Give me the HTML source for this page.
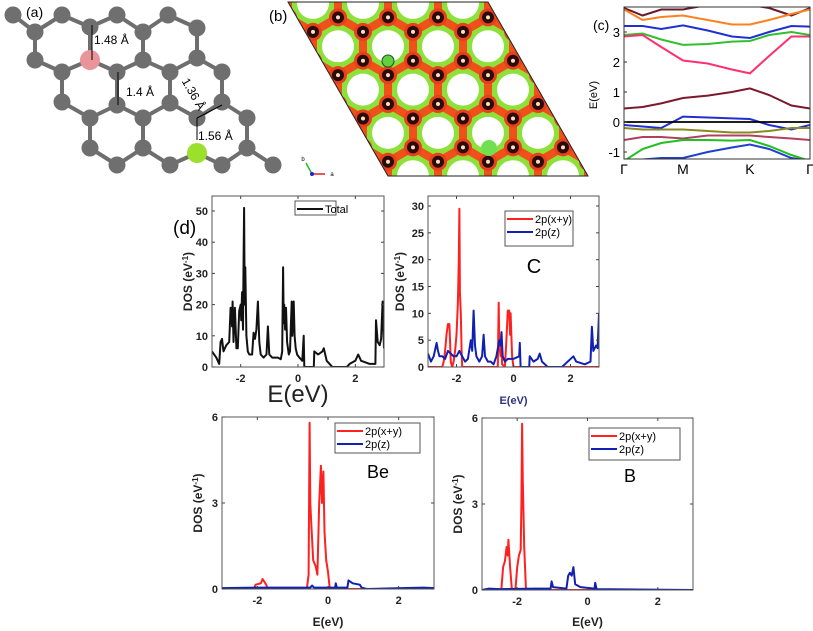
<!DOCTYPE html>
<html><head><meta charset="utf-8"><style>
html,body{margin:0;padding:0;background:#fff;}
svg{display:block;font-family:"Liberation Sans",sans-serif;}
</style></head><body>
<svg id="fig" width="813" height="631" viewBox="0 0 813 631" xmlns="http://www.w3.org/2000/svg">
<g id="pa"></g>
<g id="pb"></g>
<g id="pc"></g>
<g id="pd"></g>
</svg>
<script>
// ---------- Band structure data ----------
const bandK = [0, 0.1, 0.2, 0.317, 0.45, 0.58, 0.677, 0.78, 0.9, 1];
const bandMaroon = [0.45,0.5,0.62,0.8,0.88,1.0,1.12,0.9,0.55,0.45];
const bandPink = [2.85,2.9,2.5,2.05,1.95,1.75,1.62,2.2,2.85,2.85];
const bandGreenUp = [2.9,2.95,2.75,2.57,2.6,2.68,2.7,2.9,3.0,2.9];
const bandBlueUp = [3.2,3.2,3.1,3.22,3.05,2.85,2.8,3.0,3.2,3.18];
const bandOrange = [3.75,3.4,3.5,3.55,3.4,3.25,3.25,3.4,3.6,3.75];
const bandDarkTop = [3.8,3.55,3.75,3.75,3.9,3.9,3.9,3.8,3.55,3.8];
const bandBlueVal = [-0.1,-0.15,-0.2,0.18,0.15,0.12,0.1,-0.1,-0.25,-0.1];
const bandOlive = [-0.2,-0.25,-0.25,-0.25,-0.3,-0.35,-0.35,-0.3,-0.2,-0.2];
const bandRose = [-0.6,-0.5,-0.5,-0.55,-0.45,-0.45,-0.45,-0.5,-0.55,-0.6];
const bandGreenLow = [-1.3,-0.9,-0.7,-0.6,-0.6,-0.62,-0.6,-0.8,-1.1,-1.3];
const bandBlueLow = [-1.3,-1.25,-1.2,-1.2,-1.0,-0.85,-0.75,-0.9,-1.2,-1.3];
const bandTicks = [-1,0,1,2,3];
const bandKLabels = ["Γ","M","K","Γ"];
const bandKPos = [0,0.317,0.677,1];

// ---------- DOS data ----------
const totE = [-3,-2.85,-2.75,-2.7,-2.65,-2.6,-2.5,-2.4,-2.35,-2.3,-2.28,-2.25,-2.2,-2.15,-2.1,-2.05,-2.0,-1.98,-1.95,-1.92,-1.9,-1.88,-1.86,-1.84,-1.8,-1.75,-1.7,-1.6,-1.55,-1.5,-1.45,-1.4,-1.35,-1.3,-1.2,-1.1,-1.05,-1.0,-0.9,-0.8,-0.7,-0.6,-0.55,-0.52,-0.5,-0.48,-0.45,-0.42,-0.38,-0.32,-0.28,-0.22,-0.2,-0.15,-0.12,-0.08,-0.03,0.05,0.15,0.2,0.22,0.55,0.57,0.7,0.85,0.9,1.0,1.2,1.7,1.8,2.0,2.1,2.2,2.5,2.7,2.72,2.78,2.85,2.9,2.95,3.0];
const totV = [5,3,1,8,9,5,7,8,19,13,21,8,19,6,6,18,20,15,24,12,32,51,20,32,10,5,4,4,11,9,12,21,8,4,3,4,13,4,3,3,3,2.5,5,32,14,20,12,19,8,4,5,21,10,21,10,6,4,3,2,10,0,0,5,4,5,6,2,0,0,1,2,4,2,1,1,15,8,7,9,21,6];
const cRedE = [-3,-2.5,-2.45,-2.4,-2.35,-2.3,-2.25,-2.2,-2.15,-2.1,-2.05,-2.0,-1.95,-1.92,-1.9,-1.88,-1.85,-1.82,-1.8,-0.55,-0.52,-0.5,-0.45,-0.42,-0.4,-0.3,-0.25,-0.2,-0.15,-0.12,-0.1,-0.05,0,3];
const cRedV = [0,0,1,3,6,8,8,1,0,1,3,6,12,20,29.5,14,10,3,0,0,12,4,2,5,0.5,0,5,10.5,10.5,6,10,2,0,0];
const cBlueE = [-3,-2.9,-2.8,-2.7,-2.65,-2.6,-2.5,-2.4,-2.3,-2.2,-2.1,-2.0,-1.9,-1.8,-1.7,-1.6,-1.5,-1.45,-1.4,-1.35,-1.3,-1.2,-1.1,-1.05,-1.0,-0.9,-0.8,-0.7,-0.6,-0.5,-0.45,-0.42,-0.38,-0.3,-0.2,-0.1,0,0.2,0.22,0.25,0.55,0.57,0.7,0.85,0.92,1.0,1.2,1.7,1.8,2.1,2.2,2.5,2.7,2.75,2.8,2.9,2.95,3.0];
const cBlueV = [2.5,1,2,4.5,3,2,2,1.5,3,2.5,2,2,3,2,1,1.5,5,3,10.5,4,2,1,2,6,2,1,1,0.5,2,5,4,6.5,2,1,1.5,1.5,1.5,2,4.5,0,0,2,1,1.5,2.5,1,0,0,0.5,2,1,0.5,1,7.5,3,4,3.5,10];
const beRedE = [-3,-2.1,-2.05,-1.9,-1.85,-1.75,-1.7,-0.6,-0.55,-0.52,-0.5,-0.47,-0.42,-0.35,-0.3,-0.25,-0.2,-0.17,-0.13,-0.1,-0.05,0,0.05,3];
const beRedV = [0,0,0.15,0.2,0.35,0.15,0,0,0.5,5.8,3,2.2,1,0.8,0.5,3,4.3,3,4.1,2,1,0.6,0,0];
const beBlueE = [-3,-2,-1.5,-0.5,-0.45,-0.4,0.2,0.22,0.25,0.55,0.58,0.7,0.9,0.95,1.1,2.7,3];
const beBlueV = [0.03,0.05,0.05,0.05,0.12,0.05,0.05,0.2,0.05,0.05,0.3,0.2,0.15,0.05,0,0.05,0.03];
const bRedE = [-3,-2.45,-2.4,-2.35,-2.3,-2.27,-2.25,-2.2,-2.15,-2.05,-2.0,-1.95,-1.9,-1.88,-1.86,-1.84,-1.8,-1.75,3];
const bRedV = [0,0,0.8,1,1.5,1.2,1.75,0.8,0,0,0.8,1.2,1.4,3,5.8,3.8,1.5,0,0];
const bBlueE = [-3,-2.8,-2.5,-1.5,-1.05,-1.02,-0.98,-0.6,-0.55,-0.5,-0.45,-0.4,-0.35,-0.2,0.2,0.22,0.26,3];
const bBlueV = [0,0.05,0.03,0.05,0.05,0.3,0.1,0.05,0.5,0.6,0.5,0.8,0.2,0.1,0.05,0.25,0.03,0];
const xTicks = [-2,0,2];
const totTicks = [0,10,20,30,40,50];
const cTicks = [0,5,10,15,20,25,30];
const sTicks = [0,3,6];

const NS="http://www.w3.org/2000/svg";
function mk(tag, parent, attrs){const e=document.createElementNS(NS,tag);for(const k in attrs)e.setAttribute(k,attrs[k]);parent.appendChild(e);return e;}
function txt(parent, x, y, s, size, anchor, extra){const t=mk('text',parent,Object.assign({x:x,y:y,'font-size':size,'text-anchor':anchor||'middle'},extra||{}));t.textContent=s;return t;}

// ---------- Panel a ----------
(function(){
 const g=document.getElementById('pa');
 const atoms=[[13,15],[62,15],[117,15],[168,15],[35,32],[90,27],[143,32],[197,28],[35,60],[90,60],[143,60],[197,58],[62,72],[117,72],[170,72],[222,72],[62,102],[117,105],[170,103],[222,102],[90,118],[143,118],[197,118],[247,118],[90,148],[143,148],[197,153],[247,148],[117,165],[170,165],[222,165],[273,165]];
 for(let i=0;i<atoms.length;i++)for(let j=i+1;j<atoms.length;j++){
  const dx=atoms[i][0]-atoms[j][0],dy=atoms[i][1]-atoms[j][1],d=Math.hypot(dx,dy);
  if(d<34&&!(Math.abs(dy)<3)){
   const l=mk('line',g,{x1:atoms[i][0],y1:atoms[i][1],x2:atoms[j][0],y2:atoms[j][1],stroke:'#6e6e6e','stroke-width':4});
   
   
  }}
 atoms.forEach((a,i)=>{
  let col='#6f6f6f'; if(i===9)col='#e8949a'; if(i===26)col='#9be02a';
  const c=mk('circle',g,{cx:a[0],cy:a[1],r:i===9||i===26?10:8.5,fill:col});
  
  
 });
 [[92,25,92,60],[118,72,118,105],[197,118,222,105],[197,118,197,140]].forEach(l=>mk('line',g,{x1:l[0],y1:l[1],x2:l[2],y2:l[3],stroke:'#000','stroke-width':1}));
 txt(g,94,44,'1.48 Å',12,'start');
 txt(g,126,96,'1.4 Å',12,'start');
 txt(g,190,96,'1.36 Å',12,'middle',{transform:'rotate(60 190 96)'});
 txt(g,198,140,'1.56 Å',12,'start');
 txt(g,26,17,'(a)',14,'start');
 mk('line',g,{x1:312,y1:174,x2:325,y2:174,stroke:'#e02020','stroke-width':1.5});
 mk('line',g,{x1:312,y1:174,x2:306,y2:163,stroke:'#20c020','stroke-width':1.5});
 mk('circle',g,{cx:312,cy:174,r:2,fill:'#2020d0'});
 txt(g,303,161,'b',6,'middle'); txt(g,332,176,'a',6,'middle');
})();

// ---------- Panel b ----------
(function(){
 const g=document.getElementById('pb');
 txt(g,269,21,'(b)',15,'start');
 const defs=mk('defs',g,{});
 const cp=mk('clipPath',defs,{id:'para'});
 mk('polygon',cp,{points:'288,2 488,2 588,176 388,176'});
 const inner=mk('g',g,{'clip-path':'url(#para)'});
 mk('polygon',inner,{points:'288,2 488,2 588,176 388,176',fill:'#8ee03a'});
 const a=50,h=a*Math.sqrt(3)/2,s=a/Math.sqrt(3);
 const holes=[];
 for(let r=-2;r<7;r++)for(let c=-4;c<10;c++){
  holes.push([288+c*a+r*a/2+25, 2+r*h+1]);
 }
 holes.forEach(p=>{
  let pts='';for(let k=0;k<6;k++){const an=Math.PI/2+k*Math.PI/3;pts+=(p[0]+s*Math.cos(an)).toFixed(1)+','+(p[1]-s*Math.sin(an)).toFixed(1)+' ';}
  mk('polygon',inner,{points:pts,fill:'none',stroke:'#f0501a','stroke-width':8,'stroke-linejoin':'round'});
 });
 holes.forEach(p=>{mk('circle',inner,{cx:p[0],cy:p[1],r:16,fill:'#ffffff'});});
 holes.forEach(p=>{
  [[0,-s],[a/2,-s/2]].forEach(o=>{
   const x=p[0]+o[0],y=p[1]+o[1];
   mk('circle',inner,{cx:x,cy:y,r:9,fill:'#e8401a'});
   const c=mk('circle',inner,{cx:x,cy:y,r:6,fill:'#2a0a0a'});
   
   
   mk('circle',inner,{cx:x,cy:y,r:2,fill:'#ffe0c0'});
  });
 });
 mk('circle',inner,{cx:388,cy:61,r:6,fill:'#60d040',stroke:'#205020','stroke-width':1});
 mk('circle',inner,{cx:489,cy:148,r:8,fill:'#70e050'});
 mk('polygon',g,{points:'288,2 488,2 588,176 388,176',fill:'none',stroke:'#222','stroke-width':1});
})();

// ---------- Panel c ----------
(function(){
 const g=document.getElementById('pc');
 const L=624,R=810,T=7,B=159;
 const X=k=>L+k*(R-L), Y=e=>122-e*30;
 const bands=[[bandDarkTop,'#6a1a2a'],[bandOrange,'#ff8020'],[bandBlueUp,'#2030d0'],[bandGreenUp,'#30c030'],[bandPink,'#ff3070'],[bandMaroon,'#7a1a2a'],[bandBlueVal,'#2030d0'],[bandOlive,'#8a8a20'],[bandRose,'#b04060'],[bandGreenLow,'#20c020'],[bandBlueLow,'#2040d0']];
 const cp=mk('clipPath',mk('defs',g,{}),{id:'bc'});mk('rect',cp,{x:L,y:T,width:R-L,height:B-T});
 const inner=mk('g',g,{'clip-path':'url(#bc)'});
 bands.forEach((b,i)=>{
  let d='';bandK.forEach((k,j)=>{d+=(j?'L':'M')+X(k).toFixed(1)+','+Y(b[0][j]).toFixed(1);});
  const p=mk('path',inner,{d:d,fill:'none',stroke:b[1],'stroke-width':2});
  
  
 });
 mk('line',inner,{x1:L,y1:Y(0),x2:R,y2:Y(0),stroke:'#000','stroke-width':1.8});
 mk('rect',g,{x:L,y:T,width:R-L,height:B-T,fill:'none',stroke:'#333','stroke-width':1});
 bandTicks.forEach(t=>{txt(g,L-4,Y(t)+5,String(t),13,'end');mk('line',g,{x1:L,y1:Y(t),x2:L+3,y2:Y(t),stroke:'#333'});});
 bandKPos.forEach((k,i)=>{txt(g,X(k),174,bandKLabels[i],14,'middle');});
 txt(g,597,95,'E(eV)',11,'middle',{transform:'rotate(-90 597 95)'});
 txt(g,593,30,'(c)',14,'start');
})();

// ---------- DOS panels ----------
function dosPanel(cfg){
 const g=mk('g',document.getElementById('pd'),{});
 
 
 const X=e=>cfg.x0+(e+3)/6*(cfg.x1-cfg.x0), Y=v=>cfg.y1-v/cfg.ymax*(cfg.y1-cfg.yTop);
 const id='clip'+cfg.name;
 const cp=mk('clipPath',mk('defs',g,{}),{id:id});mk('rect',cp,{x:cfg.x0,y:cfg.frameTop,width:cfg.x1-cfg.x0,height:cfg.y1-cfg.frameTop});
 const inner=mk('g',g,{'clip-path':'url(#'+id+')'});
 cfg.series.forEach(s=>{
  let d='';s.E.forEach((e,j)=>{d+=(j?'L':'M')+X(e).toFixed(1)+','+Y(s.V[j]).toFixed(1);});
  const p=mk('path',inner,{d:d,fill:'none',stroke:s.c,'stroke-width':2,'stroke-linejoin':'round'});
  
  
 });
 mk('rect',g,{x:cfg.x0,y:cfg.frameTop,width:cfg.x1-cfg.x0,height:cfg.y1-cfg.frameTop,fill:'none',stroke:'#555','stroke-width':1});
 const tf={'font-weight':'bold','fill':'#222'};
 cfg.yt.forEach(t=>{txt(g,cfg.x0-4,Y(t)+4,String(t),cfg.fs,'end',tf);mk('line',g,{x1:cfg.x0,y1:Y(t),x2:cfg.x0+3,y2:Y(t),stroke:'#444'});mk('line',g,{x1:cfg.x1,y1:Y(t),x2:cfg.x1-3,y2:Y(t),stroke:'#444'});});
 xTicks.forEach(t=>{txt(g,X(t),cfg.y1+15,String(t),cfg.fs,'middle',tf);mk('line',g,{x1:X(t),y1:cfg.y1,x2:X(t),y2:cfg.y1-3,stroke:'#444'});mk('line',g,{x1:X(t),y1:cfg.frameTop,x2:X(t),y2:cfg.frameTop+3,stroke:'#444'});});
 const yl=txt(g,cfg.ylx,(cfg.frameTop+cfg.y1)/2,'',12,'middle',{'font-weight':'bold','fill':'#222',transform:'rotate(-90 '+cfg.ylx+' '+((cfg.frameTop+cfg.y1)/2)+')'});
 yl.innerHTML='DOS (eV<tspan baseline-shift="super" font-size="8">-1</tspan>)';
 const xl=txt(g,X(0),cfg.xly,'E(eV)',cfg.xls,'middle',{fill:cfg.xlc||'#222','font-weight':cfg.xlb?'bold':'normal'});
 
 
 const lg=mk('g',g,{});
 
 
 mk('rect',lg,{x:cfg.lg[0],y:cfg.lg[1],width:cfg.lg[2],height:cfg.lg[3],fill:'#fff',stroke:'#555'});
 cfg.series.forEach((s,i)=>{const yy=cfg.lg[1]+8+i*13;mk('line',lg,{x1:cfg.lg[0]+2,y1:yy,x2:cfg.lg[0]+28,y2:yy,stroke:s.c,'stroke-width':2});txt(lg,cfg.lg[0]+30,yy+4,s.label,11,'start');});
 if(cfg.tag)txt(g,cfg.tag[0],cfg.tag[1],cfg.tag[2],cfg.tag[3],'middle');
}
dosPanel({name:'dos-total',x0:212,x1:384,frameTop:196,yTop:211,y1:367,ymax:50,yt:totTicks,fs:11,ylx:192,xly:402,xls:24,
 series:[{E:totE,V:totV,c:'#111',n:'total-dos-line',label:'Total'}],lg:[295,201,41,14],tag:null});
dosPanel({name:'dos-carbon',x0:428,x1:599,frameTop:196,yTop:206,y1:367,ymax:30,yt:cTicks,fs:11,ylx:404,xly:404,xls:11,xlc:'#303080',xlb:true,
 series:[{E:cRedE,V:cRedV,c:'#ff2020',n:'c-2pxy-line',label:'2p(x+y)'},{E:cBlueE,V:cBlueV,c:'#1020b0',n:'c-2pz-line',label:'2p(z)'}],lg:[505,211,68,35],tag:[534,273,'C',20]});
dosPanel({name:'dos-beryllium',x0:222,x1:434,frameTop:417,yTop:417,y1:589,ymax:6,yt:sTicks,fs:11,ylx:202,xly:626,xls:12,xlb:true,
 series:[{E:beRedE,V:beRedV,c:'#ff2020',n:'be-2pxy-line',label:'2p(x+y)'},{E:beBlueE,V:beBlueV,c:'#1020b0',n:'be-2pz-line',label:'2p(z)'}],lg:[335,423,85,30],tag:[378,478,'Be',18]});
dosPanel({name:'dos-boron',x0:482,x1:693,frameTop:418,yTop:418,y1:590,ymax:6,yt:sTicks,fs:11,ylx:462,xly:626,xls:12,xlb:true,
 series:[{E:bRedE,V:bRedV,c:'#ff2020',n:'b-2pxy-line',label:'2p(x+y)'},{E:bBlueE,V:bBlueV,c:'#1020b0',n:'b-2pz-line',label:'2p(z)'}],lg:[589,428,91,32],tag:[630,482,'B',18]});
(function(){const t=txt(document.getElementById('pd'),173,234,'(d)',19,'start');})();
</script>
</body></html>
